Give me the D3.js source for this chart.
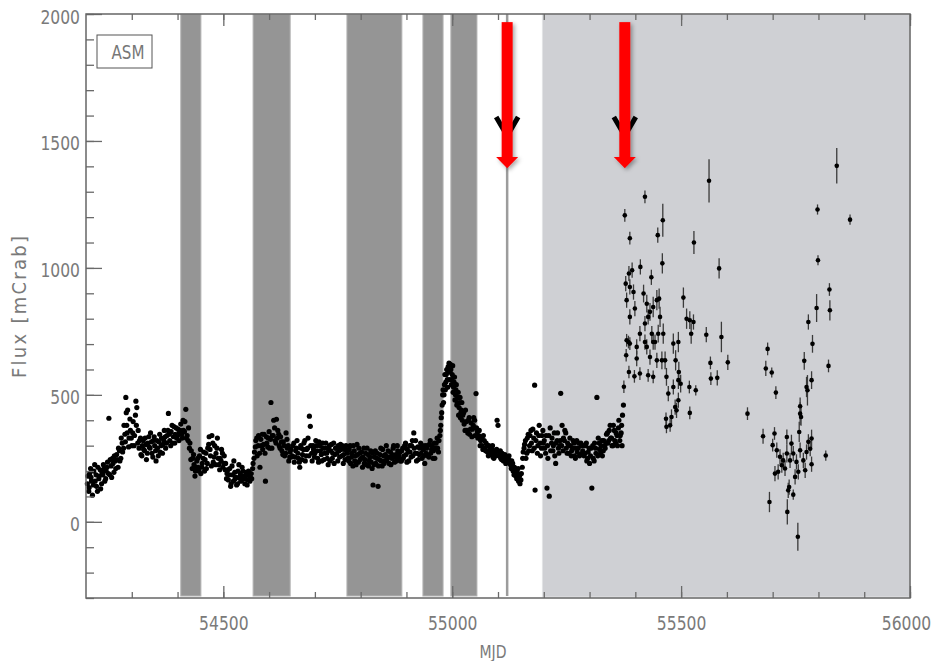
<!DOCTYPE html>
<html>
<head>
<meta charset="utf-8">
<script src="https://cdn.jsdelivr.net/npm/d3@7"></script>
<style>
body { margin: 0; background: #fff; }
text { font-family: 'Liberation Sans Narrow', 'DejaVu Sans Condensed', 'Liberation Sans', sans-serif; }
</style>
</head>
<body>
<div id="chart"></div>
<script>
// axis ticks
var xTicksMajor = [54500, 55000, 55500, 56000];
var yTicksMajor = [0, 500, 1000, 1500, 2000];

// dark grey intervals, the thin marker line and the light shaded range
var gapStart = [54407, 54565, 54770, 54936, 54997];
var gapEnd   = [54451, 54646, 54890, 54980, 55054];
var markLine = 55120;
var shadeStart = 55197;

// red arrows (MJD) and their vertical extent in flux units
var arrowMjd = [55120, 55377];
var arrowTop = 1968, arrowNeck = 1437, arrowTip = 1393;
var chevronTop = 1594, chevronBottom = 1520;

// ASM daily light curve, dense part [MJD, flux]
var asmDense = [
  [54203,150],[54206,120],[54208,190],[54211,175],[54214,105],[54217,200],[54220,160],[54223,140],[54226,215],[54229,180],
  [54232,130],[54235,195],[54238,225],[54241,160],[54244,200],[54247,235],[54250,408],[54252,185],[54255,220],[54258,250],
  [54261,195],[54264,240],[54267,265],[54270,215],[54273,280],[54276,250],[54279,310],[54282,290],[54285,345],[54287,490],
  [54289,380],[54291,440],[54294,330],[54297,360],[54300,300],[54303,395],[54306,340],[54309,475],[54311,450],[54314,360],
  [54317,320],[54320,265],[54323,300],[54326,285],[54329,330],[54332,245],[54335,310],[54338,295],[54341,350],[54344,270],
  [54347,320],[54350,300],[54353,240],[54356,290],[54359,315],[54362,275],[54365,330],[54368,305],[54371,360],[54374,290],
  [54377,340],[54380,427],[54383,320],[54386,355],[54389,310],[54392,375],[54395,345],[54398,330],[54401,365],[54404,350],
  [54407,385],[54410,330],[54413,360],[54416,395],[54418,443],[54421,340],[54424,370],[54427,310],[54430,280],[54433,250],
  [54436,225],[54439,200],[54442,240],[54445,215],[54448,260],[54451,190],[54454,230],[54457,275],[54460,245],[54463,210],
  [54466,290],[54469,335],[54472,260],[54475,340],[54478,235],[54481,300],[54484,270],[54487,330],[54490,225],[54493,250],
  [54496,285],[54499,215],[54502,260],[54505,230],[54508,190],[54511,165],[54514,210],[54517,150],[54520,185],[54523,240],
  [54526,170],[54529,145],[54532,200],[54535,175],[54538,160],[54541,215],[54544,180],[54547,150],[54550,195],[54553,165],
  [54556,185],[54559,175],[54562,170],[54565,230],[54568,275],[54571,320],[54574,260],[54577,340],[54580,215],[54583,300],
  [54586,285],[54589,345],[54592,160],[54595,310],[54598,330],[54601,290],[54604,470],[54607,340],[54610,400],[54613,320],
  [54616,404],[54619,360],[54622,300],[54625,335],[54628,280],[54631,315],[54634,260],[54637,350],[54640,290],[54643,240],
  [54646,275],[54649,255],[54652,300],[54655,235],[54658,280],[54661,320],[54664,250],[54667,215],[54670,290],[54673,265],
  [54676,310],[54679,240],[54682,285],[54685,330],[54688,416],[54690,376],[54693,270],[54696,300],[54699,255],[54702,320],
  [54705,280],[54708,235],[54711,300],[54714,265],[54717,310],[54720,245],[54723,290],[54726,270],[54729,225],[54732,300],
  [54735,280],[54738,250],[54741,310],[54744,265],[54747,290],[54750,240],[54753,280],[54756,305],[54759,260],[54762,230],
  [54765,285],[54768,300],[54771,270],[54774,240],[54777,300],[54780,255],[54783,220],[54786,280],[54789,260],[54792,305],
  [54795,235],[54798,270],[54801,250],[54804,215],[54807,290],[54810,245],[54813,225],[54816,265],[54819,240],[54822,280],
  [54825,210],[54827,145],[54830,255],[54833,230],[54836,270],[54838,140],[54841,245],[54844,290],[54847,220],[54850,260],
  [54853,240],[54856,300],[54859,255],[54862,230],[54865,275],[54868,250],[54871,290],[54874,235],[54877,265],[54880,300],
  [54883,250],[54886,275],[54889,240],[54892,290],[54895,260],[54898,310],[54901,235],[54904,275],[54907,300],[54910,255],
  [54913,320],[54916,350],[54919,270],[54922,240],[54925,295],[54928,265],[54931,310],[54934,250],[54937,285],[54940,230],
  [54943,270],[54946,300],[54949,255],[54952,320],[54955,285],[54958,250],[54961,310],[54964,290],[54967,330],[54970,275],
  [54973,340],[54975,380],[54977,430],[54979,500],[54981,470],[54983,540],[54985,520],[54987,580],[54989,560],[54991,610],
  [54993,625],[54995,590],[54997,600],[54999,560],[55001,615],[55003,530],[55005,570],[55007,500],[55009,540],[55011,470],
  [55013,510],[55015,450],[55017,490],[55019,430],[55021,470],[55023,420],[55026,385],[55029,440],[55032,360],[55035,400],
  [55038,345],[55041,390],[55044,365],[55047,410],[55050,340],[55052,505],[55053,370],[55056,330],[55059,360],[55062,320],
  [55065,300],[55068,340],[55071,290],[55074,310],[55077,275],[55080,300],[55083,265],[55086,290],[55089,255],[55092,280],
  [55095,260],[55098,400],[55100,380],[55103,275],[55106,250],[55109,270],[55112,240],[55115,265],[55118,250],[55121,235],
  [55124,260],[55127,225],[55130,240],[55133,200],[55136,215],[55139,180],[55142,195],[55145,160],[55148,150],[55151,190],
  [55154,250],[55157,290],[55160,320],[55163,270],[55166,345],[55169,300],[55172,360],[55175,280],[55178,330],[55180,538],
  [55181,125],[55184,350],[55187,300],[55190,380],[55193,260],[55196,340],[55199,310],[55202,290],[55205,340],[55207,133],
  [55209,250],[55212,101],[55214,370],[55217,310],[55220,280],[55223,350],[55226,230],[55229,320],[55232,290],[55235,300],
  [55237,506],[55240,380],[55243,330],[55246,360],[55249,290],[55252,310],[55255,270],[55258,300],[55261,280],[55264,320],
  [55267,260],[55270,290],[55273,275],[55276,310],[55279,265],[55282,300],[55285,280],[55288,260],[55291,300],[55294,240],
  [55297,275],[55300,230],[55303,290],[55305,133],[55308,250],[55311,310],[55314,270],[55316,490],[55319,330],[55322,285],
  [55325,300],[55328,260],[55331,320],[55334,290],[55337,345],[55340,310],[55343,360],[55346,330],[55349,300],[55352,380],
  [55355,320],[55358,350],[55361,300],[55364,400],[55367,340],[55370,380],[55372,420],[55374,460]
];

// the in-between days of the same light curve [MJD, flux]
var asmDenseB = [
  [54204,180],[54207,135],[54210,210],[54212,160],[54216,145],[54219,225],[54222,185],[54225,120],[54228,170],[54231,205],
  [54234,150],[54237,185],[54240,210],[54243,170],[54246,215],[54249,190],[54253,245],[54256,175],[54259,230],[54262,260],
  [54265,210],[54268,245],[54271,290],[54274,240],[54277,330],[54280,275],[54283,380],[54286,315],[54288,430],[54290,350],
  [54293,295],[54296,405],[54299,330],[54302,350],[54305,300],[54308,420],[54310,380],[54313,310],[54316,290],[54319,330],
  [54322,260],[54325,320],[54328,280],[54331,305],[54334,270],[54337,335],[54340,290],[54343,315],[54346,255],[54349,335],
  [54352,280],[54355,320],[54358,260],[54361,345],[54364,300],[54367,270],[54370,320],[54373,335],[54376,310],[54379,360],
  [54382,345],[54385,300],[54388,380],[54391,335],[54394,310],[54397,370],[54400,340],[54403,320],[54406,360],[54409,345],
  [54412,400],[54415,355],[54419,330],[54423,320],[54426,290],[54429,245],[54432,210],[54435,265],[54438,180],[54441,215],
  [54444,250],[54447,200],[54450,285],[54453,215],[54456,250],[54459,200],[54462,270],[54465,230],[54468,305],[54471,285],
  [54474,220],[54477,310],[54480,255],[54483,225],[54486,290],[54489,250],[54492,205],[54495,240],[54498,270],[54501,230],
  [54504,205],[54507,170],[54510,205],[54513,185],[54516,140],[54519,220],[54522,160],[54525,195],[54528,175],[54531,150],
  [54534,225],[54537,190],[54540,165],[54543,200],[54546,170],[54549,180],[54552,145],[54555,200],[54558,160],[54561,190],
  [54564,210],[54567,250],[54570,295],[54573,330],[54576,300],[54579,270],[54582,325],[54585,345],[54588,305],[54591,270],
  [54594,335],[54597,295],[54600,355],[54603,325],[54606,290],[54609,340],[54612,370],[54615,310],[54618,330],[54621,345],
  [54624,290],[54627,315],[54630,265],[54633,300],[54636,270],[54639,325],[54642,300],[54645,255],[54648,285],[54651,260],
  [54654,310],[54657,255],[54660,290],[54663,270],[54666,235],[54669,300],[54672,245],[54675,285],[54678,320],[54681,260],
  [54684,290],[54687,260],[54691,300],[54694,240],[54697,285],[54700,270],[54703,300],[54706,250],[54709,315],[54712,280],
  [54715,240],[54718,290],[54721,270],[54724,310],[54727,250],[54730,285],[54733,240],[54736,305],[54739,270],[54742,230],
  [54745,290],[54748,270],[54751,300],[54754,255],[54757,285],[54760,300],[54763,265],[54766,245],[54769,280],[54772,250],
  [54775,285],[54778,230],[54781,270],[54784,300],[54787,240],[54790,225],[54793,265],[54796,290],[54799,245],[54802,275],
  [54805,255],[54808,230],[54811,270],[54814,290],[54817,220],[54820,255],[54823,235],[54826,270],[54829,225],[54832,280],
  [54835,250],[54839,220],[54842,265],[54845,240],[54848,285],[54851,230],[54854,265],[54857,245],[54860,280],[54863,255],
  [54866,225],[54869,265],[54872,300],[54875,255],[54878,240],[54881,280],[54884,260],[54887,240],[54890,280],[54893,250],
  [54896,300],[54899,265],[54902,285],[54905,240],[54908,275],[54911,300],[54914,260],[54917,290],[54920,320],[54923,270],
  [54926,245],[54929,290],[54932,270],[54935,300],[54938,260],[54941,300],[54944,290],[54947,260],[54950,305],[54953,270],
  [54956,300],[54959,280],[54962,250],[54965,310],[54968,290],[54971,320],[54974,360],[54976,410],[54978,460],[54980,520],
  [54982,500],[54984,580],[54986,550],[54988,600],[54990,530],[54992,590],[54994,560],[54996,620],[54998,540],[55000,580],
  [55002,510],[55004,550],[55006,480],[55008,520],[55010,460],[55012,490],[55014,420],[55016,470],[55018,410],[55020,440],
  [55022,400],[55025,430],[55028,360],[55031,395],[55034,350],[55037,410],[55040,365],[55043,335],[55046,380],[55049,400],
  [55055,355],[55058,340],[55061,300],[55064,330],[55067,285],[55070,320],[55073,280],[55076,300],[55079,260],[55082,285],
  [55085,270],[55088,300],[55091,250],[55094,270],[55097,285],[55102,260],[55105,280],[55108,245],[55111,265],[55114,250],
  [55117,230],[55120,255],[55123,245],[55126,240],[55129,210],[55132,230],[55135,185],[55138,200],[55141,170],[55144,210],
  [55147,180],[55150,165],[55153,215],[55155,275],[55158,305],[55161,250],[55164,330],[55167,280],[55170,340],[55173,310],
  [55176,365],[55179,290],[55183,320],[55186,270],[55189,340],[55192,310],[55195,290],[55198,360],[55201,320],[55204,270],
  [55208,300],[55211,340],[55215,280],[55218,330],[55221,300],[55224,260],[55227,310],[55230,350],[55233,270],[55236,320],
  [55239,300],[55242,280],[55245,320],[55248,350],[55251,270],[55254,300],[55257,330],[55260,260],[55263,290],[55266,310],
  [55269,250],[55272,320],[55275,290],[55278,260],[55281,310],[55284,270],[55287,300],[55290,270],[55293,310],[55296,250],
  [55299,290],[55302,260],[55307,300],[55310,240],[55313,290],[55318,260],[55321,310],[55324,270],[55327,320],[55330,280],
  [55333,300],[55336,310],[55339,350],[55342,320],[55345,380],[55348,330],[55351,300],[55354,360],[55357,310],[55360,340],
  [55363,370],[55366,320],[55369,350],[55371,300]
];

// later, sparser part with visible error bars [MJD, flux, error]
var asmSparse = [
  [55375,532,25],[55377,1207,25],[55388,1117,25],[55421,1280,25],[55460,1188,65],[55449,1129,30],[55528,1100,45],
  [55561,1343,85],[55583,998,40],[55459,1018,40],[55411,1004,30],[55435,963,30],
  [55379,938,30],[55381,873,30],[55386,978,30],[55393,991,30],[55388,925,30],[55396,905,30],[55399,840,30],[55388,807,30],
  [55381,715,25],[55385,708,25],[55388,702,25],[55380,656,25],[55386,590,25],[55398,573,25],[55403,689,30],[55403,643,30],
  [55410,584,25],[55410,741,30],[55418,899,35],[55421,781,30],[55425,859,35],[55428,807,30],[55432,827,35],[55436,741,30],
  [55439,846,40],[55443,708,30],[55421,708,30],[55425,689,30],[55428,577,25],[55432,649,30],[55439,708,30],[55439,571,25],
  [55447,873,40],[55447,636,30],[55450,741,35],[55454,807,40],[55452,879,40],[55458,636,35],[55461,741,40],[55465,636,35],
  [55468,571,35],[55472,505,30],[55467,406,25],[55468,374,25],[55476,380,25],[55479,413,30],[55487,452,30],[55490,439,30],
  [55494,479,30],[55483,531,30],[55494,558,35],[55488,636,40],[55495,590,40],[55483,702,40],[55494,708,40],[55499,544,35],
  [55505,883,40],[55512,800,40],[55519,794,35],[55527,787,30],[55522,741,40],[55518,531,25],[55532,518,20],[55519,429,25],
  [55555,737,30],[55564,626,25],[55565,564,25],[55579,567,30],[55588,728,60],[55602,628,30],
  [55645,426,25],[55679,337,30],[55689,681,25],[55685,604,30],[55698,588,20],[55707,509,25],[55704,348,25],[55700,302,25],
  [55709,282,30],[55716,256,30],[55723,242,30],[55705,190,30],[55712,197,30],[55720,223,30],[55727,210,30],[55731,269,35],
  [55741,308,35],[55745,269,30],[55752,236,30],[55760,282,30],[55767,242,30],[55774,275,30],[55778,315,30],[55785,328,35],
  [55782,288,30],[55771,203,30],[55756,197,30],[55785,227,30],[55731,334,30],[55738,242,30],[55749,177,30],
  [55693,78,40],[55732,39,50],[55745,107,20],[55736,137,30],[55734,124,30],[55755,-59,55],[55758,354,40],[55760,426,45],
  [55760,455,35],[55762,413,35],[55776,518,60],[55774,531,40],[55785,558,35],[55769,634,35],[55778,787,30],[55787,701,35],
  [55796,842,55],[55824,915,25],[55825,833,40],[55822,614,25],[55799,1030,20],[55798,1230,20],[55816,261,20],
  [55840,1402,70],[55869,1190,20]
];

var margin = {top: 14, right: 27, bottom: 63, left: 86};
var width = 937 - margin.left - margin.right;
var height = 661 - margin.top - margin.bottom;

var root = d3.select("#chart").append("svg")
    .attr("width", 937)
    .attr("height", 661);

var defs = root.append("defs");
var shadow = defs.append("filter").attr("id", "shadow")
    .attr("x", "-50%").attr("y", "-10%").attr("width", "200%").attr("height", "130%");
shadow.append("feDropShadow")
    .attr("dx", 2).attr("dy", 2).attr("stdDeviation", 2)
    .attr("flood-color", "#000").attr("flood-opacity", 0.35);

var svg = root.append("g")
    .attr("transform", "translate(" + margin.left + "," + margin.top + ")");

var xScale = d3.scaleLinear().domain([54200, 56000]).range([0, width]);
var yScale = d3.scaleLinear().domain([-300, 2000]).range([height, 0]);

// light grey shaded range
svg.append("rect")
    .attr("x", xScale(shadeStart)).attr("y", 0)
    .attr("width", width - xScale(shadeStart)).attr("height", height - 1)
    .attr("fill", "#cfd0d4")
    .attr("stroke", "#e2e3e5").attr("stroke-width", 1);

// dark grey intervals
svg.selectAll(".gap")
    .data(gapStart)
    .enter().append("rect")
    .attr("class", "gap")
    .attr("x", function(d) { return xScale(d); })
    .attr("y", 0.5)
    .attr("width", function(d, i) { return xScale(gapEnd[i]) - xScale(d); })
    .attr("height", height - 2.5)
    .attr("fill", "#959595")
    .attr("stroke", "#b4b4b4").attr("stroke-width", 1);

// thin marker line
svg.append("line")
    .attr("x1", xScale(markLine)).attr("x2", xScale(markLine))
    .attr("y1", 0).attr("y2", height - 2)
    .attr("stroke", "#9c9c9c").attr("stroke-width", 2.5);

// error bars
svg.selectAll(".err")
    .data(asmSparse)
    .enter().append("line")
    .attr("class", "err")
    .attr("x1", function(d) { return xScale(d[0]); })
    .attr("x2", function(d) { return xScale(d[0]); })
    .attr("y1", function(d) { return yScale(d[1] - d[2]); })
    .attr("y2", function(d) { return yScale(d[1] + d[2]); })
    .attr("stroke", "#3a3a3a").attr("stroke-width", 1.3);

// points
svg.selectAll(".pt")
    .data(asmDense.concat(asmDenseB))
    .enter().append("circle")
    .attr("class", "pt")
    .attr("cx", function(d) { return xScale(d[0]); })
    .attr("cy", function(d) { return yScale(d[1]); })
    .attr("r", 2.6)
    .attr("fill", "#000");

svg.selectAll(".spt")
    .data(asmSparse)
    .enter().append("circle")
    .attr("class", "spt")
    .attr("cx", function(d) { return xScale(d[0]); })
    .attr("cy", function(d) { return yScale(d[1]); })
    .attr("r", 2.3)
    .attr("fill", "#000");

// black chevrons behind the arrows
svg.selectAll(".chev")
    .data(arrowMjd)
    .enter().append("path")
    .attr("class", "chev")
    .attr("d", function(d) {
        var x = xScale(d);
        return "M" + (x - 11) + "," + yScale(chevronTop) +
               "L" + x + "," + yScale(chevronBottom) +
               "L" + (x + 11) + "," + yScale(chevronTop);
    })
    .attr("fill", "none").attr("stroke", "#000").attr("stroke-width", 5);

// red arrows
var arrows = svg.selectAll(".arrow")
    .data(arrowMjd)
    .enter().append("g")
    .attr("class", "arrow")
    .attr("filter", "url(#shadow)");

arrows.append("rect")
    .attr("x", function(d) { return xScale(d) - 5.5; })
    .attr("y", yScale(arrowTop))
    .attr("width", 11)
    .attr("height", yScale(arrowNeck) - yScale(arrowTop) + 1)
    .attr("fill", "#ff0000");

arrows.append("path")
    .attr("d", function(d) {
        var x = xScale(d);
        return "M" + (x - 11) + "," + yScale(arrowNeck) +
               "L" + (x + 11) + "," + yScale(arrowNeck) +
               "L" + x + "," + yScale(arrowTip) + "Z";
    })
    .attr("fill", "#ff0000");

// axes
function styleAxis(g) {
    g.select(".domain").remove();
    g.selectAll(".tick line").attr("stroke", "#6a6a6a").attr("stroke-width", 1.3);
    g.selectAll(".tick text")
        .attr("fill", "#7a7a7a")
        .style("font-size", "20px")
        .attr("textLength", function() { return this.textContent.length * 9.9; })
        .attr("lengthAdjust", "spacingAndGlyphs");
}

var yMinor = d3.range(-300, 2001, 100);
var xMinor = d3.range(54300, 56001, 100);

svg.append("g")
    .call(d3.axisLeft(yScale).tickValues(yMinor).tickSizeInner(-8).tickSizeOuter(0).tickFormat(""))
    .call(styleAxis);
svg.append("g")
    .call(d3.axisLeft(yScale).tickValues(yTicksMajor).tickSizeInner(-16).tickSizeOuter(0).tickPadding(6).tickFormat(d3.format("d")))
    .call(styleAxis)
    .selectAll(".tick text").attr("dy", "0.45em");

svg.append("g")
    .attr("transform", "translate(0," + height + ")")
    .call(d3.axisBottom(xScale).tickValues(xMinor).tickSizeInner(-6).tickSizeOuter(0).tickFormat(""))
    .call(styleAxis);
var xMajor = svg.append("g")
    .attr("transform", "translate(0," + height + ")")
    .call(d3.axisBottom(xScale).tickValues(xTicksMajor).tickSizeInner(-12).tickSizeOuter(0).tickPadding(19).tickFormat(d3.format("d")))
    .call(styleAxis);
xMajor.selectAll(".tick text").style("font-size", "19px");
// keep the last label inside the page
xMajor.selectAll(".tick text").filter(function(d) { return d === 56000; }).attr("x", -4);

svg.append("g")
    .call(d3.axisTop(xScale).tickValues(xMinor).tickSizeInner(-6).tickSizeOuter(0).tickFormat(""))
    .call(styleAxis);
svg.append("g")
    .call(d3.axisTop(xScale).tickValues(xTicksMajor).tickSizeInner(-12).tickSizeOuter(0).tickFormat(""))
    .call(styleAxis);

// frame
svg.append("rect")
    .attr("x", 0).attr("y", 0)
    .attr("width", width).attr("height", height)
    .attr("fill", "none")
    .attr("stroke", "#666").attr("stroke-width", 1.5);

// legend box
svg.append("rect")
    .attr("x", 11).attr("y", 21)
    .attr("width", 55).attr("height", 33)
    .attr("fill", "#fff")
    .attr("stroke", "#555").attr("stroke-width", 1);
svg.append("text")
    .attr("x", 42).attr("y", 45)
    .attr("text-anchor", "middle")
    .attr("fill", "#777")
    .style("font-size", "20px")
    .attr("textLength", 33)
    .attr("lengthAdjust", "spacingAndGlyphs")
    .text("ASM");

// axis titles
root.append("text")
    .attr("x", 493).attr("y", 658)
    .attr("text-anchor", "middle")
    .attr("fill", "#7a7a7a")
    .style("font-size", "17px")
    .attr("textLength", 27)
    .attr("lengthAdjust", "spacingAndGlyphs")
    .text("MJD");

root.append("text")
    .attr("transform", "translate(26,307) rotate(-90)")
    .attr("text-anchor", "middle")
    .attr("fill", "#7a7a7a")
    .style("font-size", "20px")
    .attr("textLength", 142)
    .attr("lengthAdjust", "spacing")
    .text("Flux  [mCrab]");
</script>
</body>
</html>
